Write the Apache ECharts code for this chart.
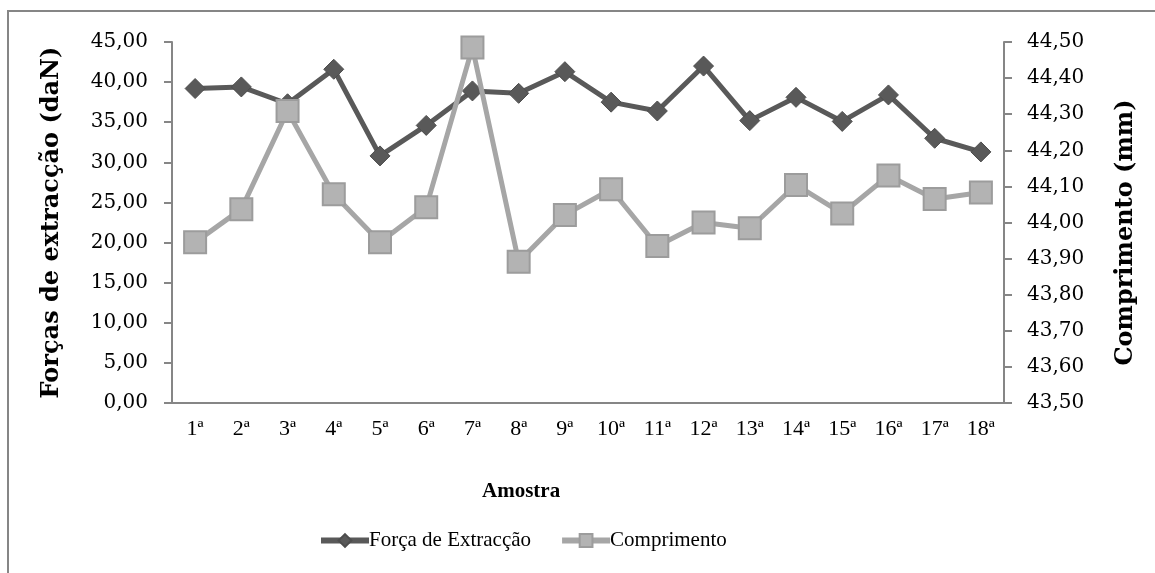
<!DOCTYPE html>
<html>
<head>
<meta charset="utf-8">
<script src="https://cdn.jsdelivr.net/npm/echarts@6/dist/echarts.min.js"></script>
<style>
html,body{margin:0;padding:0;background:#fff;}
#c{width:1155px;height:573px;}
</style>
</head>
<body>
<div id="c"></div>
<script>
var categories = ['1ª','2ª','3ª','4ª','5ª','6ª','7ª','8ª','9ª','10ª','11ª','12ª','13ª','14ª','15ª','16ª','17ª','18ª'];
var forca = [39.2, 39.4, 37.3, 41.6, 30.8, 34.6, 38.9, 38.6, 41.3, 37.5, 36.4, 42.0, 35.2, 38.1, 35.1, 38.4, 33.0, 31.3];
var comprimento = [43.945, 44.037, 44.309, 44.078, 43.945, 44.042, 44.485, 43.891, 44.021, 44.092, 43.935, 44.0, 43.984, 44.104, 44.025, 44.13, 44.065, 44.083];
var leftTicks = {min: 0, max: 45, interval: 5};
var rightTicks = {min: 43.5, max: 44.5, interval: 0.1};
var names = ['Força de Extracção', 'Comprimento'];
var titles = {left: 'Forças de extracção (daN)', right: 'Comprimento (mm)', x: 'Amostra'};

var FONT = '"Liberation Serif", "Times New Roman", serif';
var WIDE = '"DejaVu Serif", serif';
var chart = echarts.init(document.getElementById('c'), null, {renderer: 'canvas'});
function fmt(v){ return v.toFixed(2).replace('.', ','); }

chart.setOption({
  backgroundColor: '#fff',
  animation: false,
  textStyle: {fontFamily: FONT},
  graphic: [
    {type: 'rect', shape: {x: 8, y: 11, width: 1160, height: 580}, style: {fill: 'none', stroke: '#868686', lineWidth: 2}, silent: true},
    {type: 'text', left: 482, top: 481, style: {text: titles.x, font: 'bold 21px ' + FONT, fill: '#000'}}
  ],
  legend: {
    left: 318, top: 530, padding: 0,
    itemWidth: 48, itemHeight: 16, itemGap: 28,
    lineStyle: {width: 6},
    textStyle: {fontFamily: FONT, fontSize: 21, color: '#000', padding: [0,0,0,-5]},
    data: names
  },
  grid: {left: 172, right: 151, top: 42, bottom: 170, containLabel: false},
  xAxis: {
    type: 'category', data: categories, boundaryGap: true,
    axisLine: {lineStyle: {color: '#868686', width: 2}},
    axisTick: {show: false},
    axisLabel: {fontFamily: FONT, fontSize: 22, color: '#000', margin: 15}
  },
  yAxis: [
    {
      type: 'value', position: 'left', min: leftTicks.min, max: leftTicks.max, interval: leftTicks.interval,
      name: titles.left, nameLocation: 'middle', nameGap: 108,
      nameTextStyle: {fontFamily: WIDE, fontSize: 24, fontWeight: 'bold', color: '#000'},
      axisLine: {show: true, lineStyle: {color: '#868686', width: 2}},
      axisTick: {show: true, length: 8, lineStyle: {color: '#868686', width: 2}},
      splitLine: {show: false},
      axisLabel: {fontFamily: WIDE, fontSize: 20, color: '#000', margin: 24, formatter: fmt}
    },
    {
      type: 'value', position: 'right', min: rightTicks.min, max: rightTicks.max, interval: rightTicks.interval,
      name: titles.right, nameLocation: 'middle', nameGap: 110,
      nameTextStyle: {fontFamily: WIDE, fontSize: 24, fontWeight: 'bold', color: '#000', padding: [0, 20, 0, 0]},
      axisLine: {show: true, lineStyle: {color: '#868686', width: 2}},
      axisTick: {show: true, length: 8, lineStyle: {color: '#868686', width: 2}},
      splitLine: {show: false},
      axisLabel: {fontFamily: WIDE, fontSize: 20, color: '#000', margin: 23, formatter: fmt}
    }
  ],
  series: [
    {
      name: names[0], type: 'line', yAxisIndex: 0, data: forca,
      symbol: 'diamond', symbolSize: [20, 20],
      lineStyle: {color: '#595959', width: 5},
      itemStyle: {color: '#595959', borderColor: '#4d4d4d', borderWidth: 1},
      z: 2
    },
    {
      name: names[1], type: 'line', yAxisIndex: 1, data: comprimento,
      symbol: 'rect', symbolSize: [22, 22],
      lineStyle: {color: '#a6a6a6', width: 5},
      itemStyle: {color: '#b3b3b3', borderColor: '#9c9c9c', borderWidth: 2},
      z: 3
    }
  ]
});
</script>
</body>
</html>
